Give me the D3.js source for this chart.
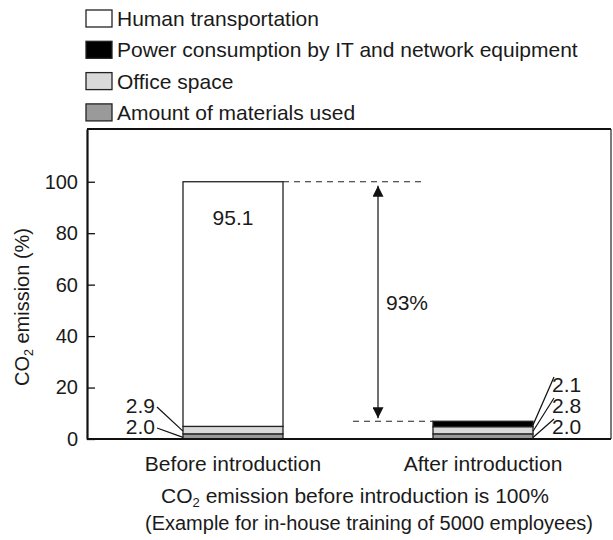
<!DOCTYPE html>
<html><head><meta charset="utf-8">
<script src="https://cdn.jsdelivr.net/npm/d3@7"></script>
<style>
body{margin:0;background:#fff;}
svg text{font-family:"Liberation Sans",Arial,sans-serif;fill:#1a1a1a;}
</style></head>
<body><svg id="c" width="613" height="540"></svg>
<script>
const categories = ["Before introduction", "After introduction"];
const seriesNames = ["Amount of materials used", "Office space", "Power consumption by IT and network equipment", "Human transportation"];
const materials = [2.0, 2.0];
const office = [2.9, 2.8];
const power = [0.0, 2.1];
const human = [95.1, 0.0];
const yTicks = [0, 20, 40, 60, 80, 100];
const reductionLabel = "93%";
const legendOrder = ["Human transportation", "Power consumption by IT and network equipment", "Office space", "Amount of materials used"];
const colors = {"Amount of materials used":"#9a9a9a","Office space":"#d9d9d9","Power consumption by IT and network equipment":"#000000","Human transportation":"#ffffff"};

const svg = d3.select("#c");
const FS = 21, TFS = 20;
const L = 87, R = 611, T = 129, B = 439;
const x = d3.scaleBand().domain(categories).range([108, 608]).paddingInner(0.6).paddingOuter(0.3);
const y = d3.scaleLinear().domain([0, 120.5]).range([B, T]);

const rows = categories.map((c, i) => ({cat: c, vals: [materials[i], office[i], power[i], human[i]]}));
const table = rows.map(r => { const o = {cat: r.cat}; seriesNames.forEach((s, j) => o[s] = r.vals[j]); return o; });
const stacked = d3.stack().keys(seriesNames)(table);

// frame
svg.append("line").attr("x1", L).attr("x2", R).attr("y1", T).attr("y2", T).attr("stroke", "#111").attr("stroke-width", 2.2);
svg.append("line").attr("x1", R).attr("x2", R).attr("y1", T).attr("y2", B).attr("stroke", "#222").attr("stroke-width", 1.2);

// bars
stacked.forEach(layer => {
  svg.append("g").selectAll("rect").data(layer.filter(d => d[1] - d[0] > 0)).join("rect")
    .attr("x", d => x(d.data.cat)).attr("width", x.bandwidth())
    .attr("y", d => y(d[1])).attr("height", d => y(d[0]) - y(d[1]))
    .attr("fill", colors[layer.key]).attr("stroke", "#222").attr("stroke-width", 1.3);
});

// axes
const ya = d3.axisLeft(y).tickValues(yTicks).tickSizeInner(-8).tickSizeOuter(0).tickPadding(9);
const yg = svg.append("g").attr("transform", `translate(${L},0)`).call(ya);
yg.select(".domain").attr("stroke", "#111").attr("stroke-width", 2.2);
yg.selectAll(".tick line").attr("stroke", "#111").attr("stroke-width", 1.3);
yg.selectAll(".tick text").attr("font-size", TFS).attr("font-family", "Liberation Sans, Arial, sans-serif").attr("fill", "#1a1a1a");

const xa = d3.axisBottom(x).tickSize(0).tickPadding(17);
const xg = svg.append("g").attr("transform", `translate(0,${B})`).call(xa);
xg.select(".domain").attr("d", `M${L},0H${R}`).attr("stroke", "#111").attr("stroke-width", 2.2);
xg.selectAll(".tick text").attr("font-size", FS).attr("font-family", "Liberation Sans, Arial, sans-serif").attr("fill", "#1a1a1a");

// y title
const yt = svg.append("text").attr("transform", `translate(29,307) rotate(-90)`).attr("text-anchor", "middle").attr("font-size", TFS);
yt.append("tspan").text("CO");
yt.append("tspan").text("2").attr("font-size", TFS * 0.62).attr("dy", 4);
yt.append("tspan").text(" emission (%)").attr("dy", -4);

// bottom notes
const n1 = svg.append("text").attr("x", 355).attr("y", 503).attr("text-anchor", "middle").attr("font-size", FS);
n1.append("tspan").text("CO");
n1.append("tspan").text("2").attr("font-size", FS * 0.62).attr("dy", 4);
n1.append("tspan").text(" emission before introduction is 100%").attr("dy", -4);
svg.append("text").attr("x", 369).attr("y", 530).attr("text-anchor", "middle").attr("font-size", 20).text("(Example for in-house training of 5000 employees)");

// value label inside
const b0 = x(categories[0]), b1 = x(categories[1]), bw = x.bandwidth();
const topTot = d3.sum([materials[0], office[0], power[0], human[0]]);
const botTot = d3.sum([materials[1], office[1], power[1], human[1]]);
svg.append("text").attr("x", b0 + bw / 2).attr("y", y(topTot) + 43).attr("text-anchor", "middle").attr("font-size", FS).text(human[0].toFixed(1));

// left labels with leaders
const leftLabs = [{v: office[0], mid: materials[0] + office[0] / 2, ly: 413}, {v: materials[0], mid: materials[0] / 2, ly: 434}];
leftLabs.forEach(d => {
  svg.append("text").attr("x", 155).attr("y", d.ly).attr("text-anchor", "end").attr("font-size", FS).text(d.v.toFixed(1));
  svg.append("line").attr("x1", 157).attr("y1", d.ly - 6).attr("x2", b0).attr("y2", y(d.mid) + 1).attr("stroke", "#111").attr("stroke-width", 1.2);
});
// right labels
const rightLabs = [{v: power[1], mid: materials[1] + office[1] + power[1] / 2, ly: 392}, {v: office[1], mid: materials[1] + office[1] / 2, ly: 413}, {v: materials[1], mid: materials[1] / 2, ly: 434}];
rightLabs.forEach(d => {
  svg.append("text").attr("x", 552).attr("y", d.ly).attr("font-size", FS).text(d.v.toFixed(1));
  svg.append("line").attr("x1", 554).attr("y1", d.ly - 15).attr("x2", b1 + bw).attr("y2", y(d.mid) + 1).attr("stroke", "#111").attr("stroke-width", 1.2);
});

// dashed reference lines
svg.append("line").attr("x1", b0 + bw).attr("x2", 425).attr("y1", y(topTot)).attr("y2", y(topTot)).attr("stroke", "#222").attr("stroke-width", 1.2).attr("stroke-dasharray", "6,5");
svg.append("line").attr("x1", 353).attr("x2", b1).attr("y1", y(botTot)).attr("y2", y(botTot)).attr("stroke", "#222").attr("stroke-width", 1.2).attr("stroke-dasharray", "6,5");

// arrow
const ax = 378;
const defs = svg.append("defs");
defs.append("marker").attr("id", "ah").attr("viewBox", "0 0 10 10").attr("refX", 10).attr("refY", 5)
  .attr("markerWidth", 11).attr("markerHeight", 11).attr("markerUnits", "userSpaceOnUse").attr("orient", "auto-start-reverse")
  .append("path").attr("d", "M0,0L10,5L0,10Z").attr("fill", "#111");
svg.append("line").attr("x1", ax).attr("x2", ax).attr("y1", y(topTot) + 4).attr("y2", y(botTot) - 3)
  .attr("stroke", "#222").attr("stroke-width", 1.3).attr("marker-start", "url(#ah)").attr("marker-end", "url(#ah)");
svg.append("text").attr("x", 386).attr("y", 310).attr("font-size", FS).text(reductionLabel);

// legend
const lg = svg.append("g");
legendOrder.forEach((s, i) => {
  const cy = 18 + i * 31.3;
  lg.append("rect").attr("x", 86).attr("y", cy - 8).attr("width", 26).attr("height", 17).attr("fill", colors[s]).attr("stroke", "#222").attr("stroke-width", 1.3);
  lg.append("text").attr("x", 117).attr("y", cy + 8).attr("font-size", FS).text(s);
});
</script></body></html>
